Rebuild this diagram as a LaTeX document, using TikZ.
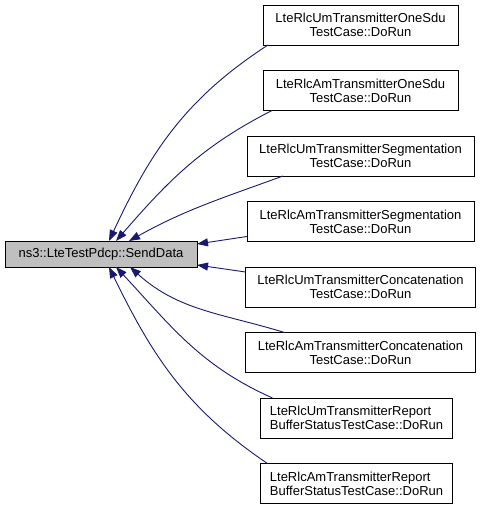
\documentclass[tikz,border=0pt]{standalone}
\usepackage{fontspec}
\setmainfont{Liberation Sans}
\usepackage{tikz}
\usetikzlibrary{positioning}
\usetikzlibrary{arrows.meta}
\definecolor{mynavy}{RGB}{25,25,112}
\definecolor{mygray}{RGB}{191,191,191}

\begin{document}
\begin{tikzpicture}[x=1pt,y=1pt,node distance=25.5pt,outer sep=0pt,
callb/.style={
  draw=black,
  line width=0.9pt,
  fill=white,
  font={\fontsize{13}{14}\selectfont},
  align=center,
  inner sep=0pt,
  minimum height=40pt},
mainb/.style={callb,fill=mygray,minimum height=26pt},
dep/.style={
  draw=mynavy,
  line width=0.9pt,
  -{Triangle[length=11pt,width=8pt]}},
]
\useasboundingbox (0,0) rectangle (483,508);
\node[mainb, minimum width=192pt] (send) at (101,254) {ns3::LteTestPdcp::SendData};
\node[callb, minimum width=195pt] (um1) at (360.5,483) {LteRlcUmTransmitterOneSdu\\TestCase::DoRun};
\node[callb, minimum width=195pt, below=of um1] (am1) {LteRlcAmTransmitterOneSdu\\TestCase::DoRun};
\node[callb, minimum width=227pt, below=of am1] (umseg) {LteRlcUmTransmitterSegmentation\\TestCase::DoRun};
\node[callb, minimum width=227pt, below=of umseg] (amseg) {LteRlcAmTransmitterSegmentation\\TestCase::DoRun};
\node[callb, minimum width=230pt, below=of amseg] (umcat) {LteRlcUmTransmitterConcatenation\\TestCase::DoRun};
\node[callb, minimum width=230pt, below=of umcat] (amcat) {LteRlcAmTransmitterConcatenation\\TestCase::DoRun};
\node[callb, minimum width=192pt, align=left, below=of amcat, xshift=-4pt] (umrep) {LteRlcUmTransmitterReport\\BufferStatusTestCase::DoRun};
\node[callb, minimum width=192pt, align=left, below=of umrep] (amrep) {LteRlcAmTransmitterReport\\BufferStatusTestCase::DoRun};
% calls into SendData
\draw[dep] ([xshift=5pt]um1.south west) to[out=213,in=65] ([xshift=104pt]send.north west);
\draw[dep] ([xshift=9pt]am1.south west) to[out=207,in=49] ([xshift=111pt]send.north west);
\draw[dep] ([xshift=36pt]umseg.south west) to[out=200,in=29] ([xshift=124pt]send.north west);
\draw[dep] ([yshift=5pt]amseg.south west) -- ([yshift=-3pt]send.north east);
\draw[dep] ([yshift=-5pt]umcat.north west) -- ([yshift=2pt]send.south east);
\draw[dep] ([xshift=39pt]amcat.north west) to[out=163,in=318] ([xshift=125pt]send.south west);
\draw[dep] ([xshift=12pt]umrep.north west) to[out=156,in=313] ([xshift=111pt]send.south west);
\draw[dep] ([xshift=7pt]amrep.north west) to[out=146,in=296] ([xshift=104pt]send.south west);
\end{tikzpicture}
\end{document}
